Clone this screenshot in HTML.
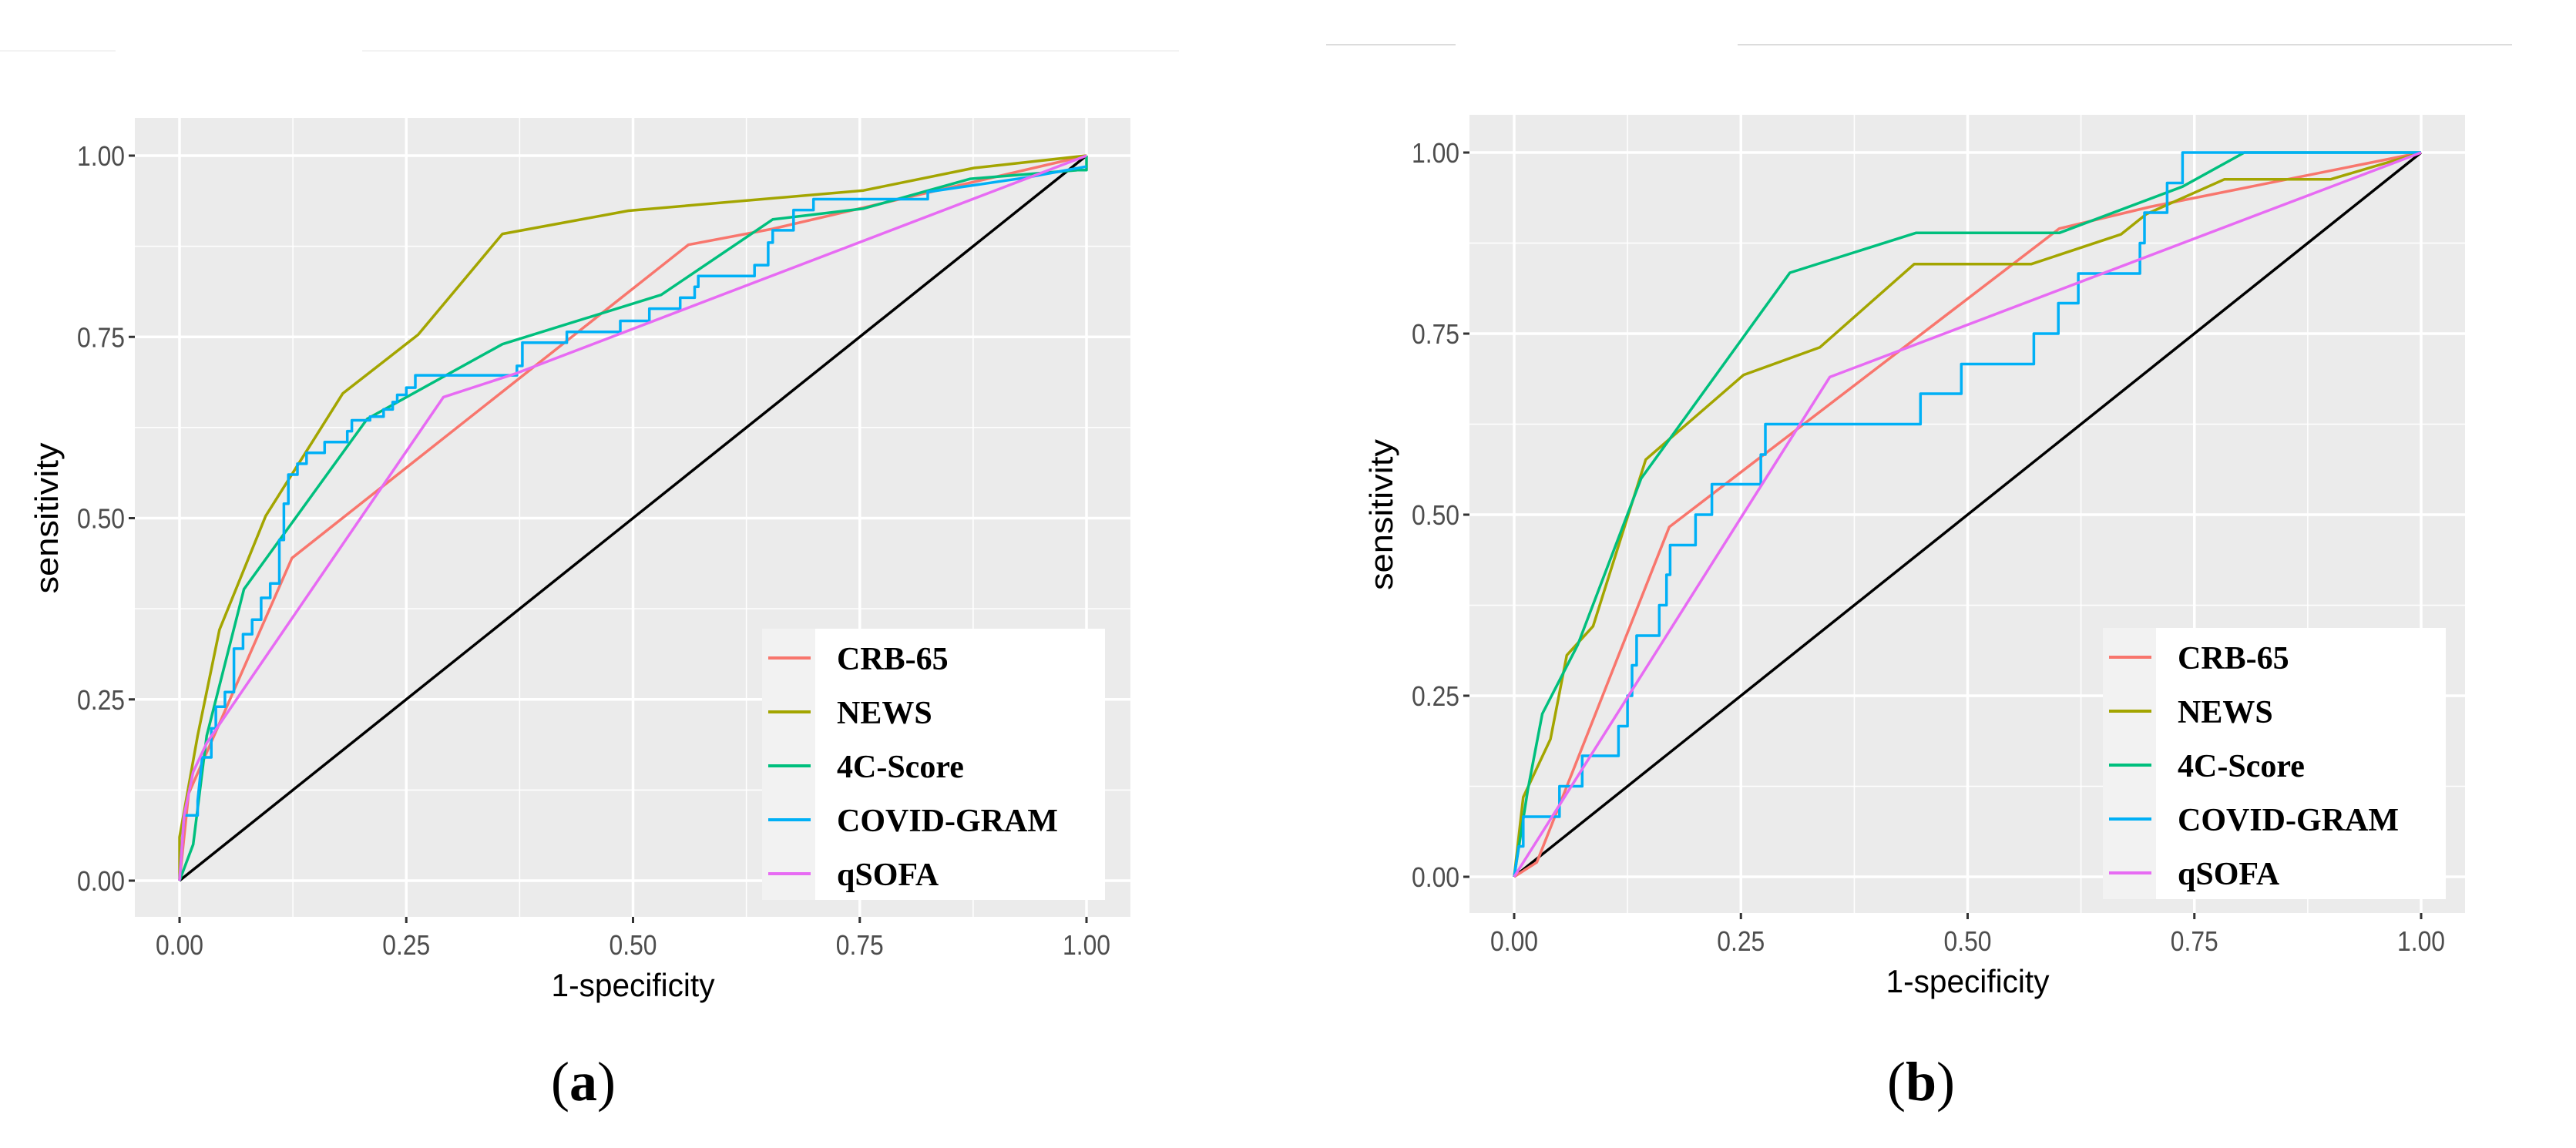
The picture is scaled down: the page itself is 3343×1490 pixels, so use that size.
<!DOCTYPE html>
<html><head><meta charset="utf-8">
<style>
html,body{margin:0;padding:0;background:#fff;}
svg{display:block;}
</style></head>
<body>
<svg id="fig" width="3343" height="1490" viewBox="0 0 3343 1490" xmlns="http://www.w3.org/2000/svg">
<rect x="0" y="0" width="3343" height="1490" fill="#ffffff"/>
<line x1="0" y1="66" x2="150" y2="66" stroke="#f3f3f3" stroke-width="2"/>
<line x1="470" y1="66" x2="1530" y2="66" stroke="#f3f3f3" stroke-width="2"/>
<line x1="1721" y1="58" x2="1889" y2="58" stroke="#dcdcdc" stroke-width="2"/>
<line x1="2255" y1="58" x2="3260" y2="58" stroke="#dcdcdc" stroke-width="2"/>
</svg>
<script>
// ---- data ----
const tickValues = [0, 0.25, 0.5, 0.75, 1];
const tickLabels = ["0.00", "0.25", "0.50", "0.75", "1.00"];
const seriesNames = ["CRB-65", "NEWS", "4C-Score", "COVID-GRAM", "qSOFA"];
const seriesColors = ["#F8766D", "#A3A500", "#00BF7D", "#00B0F6", "#E76BF3"];

// Panel (a)
const a_crb_x = [0, 0.01, 0.124, 0.561, 0.654, 1];
const a_crb_y = [0, 0.12, 0.445, 0.877, 0.899, 1];
const a_news_x = [0, 0, 0.02, 0.044, 0.095, 0.18, 0.263, 0.356, 0.495, 0.754, 0.876, 1];
const a_news_y = [0, 0.06, 0.2, 0.346, 0.503, 0.672, 0.753, 0.892, 0.924, 0.952, 0.983, 1];
const a_4c_x = [0, 0.015, 0.03, 0.071, 0.207, 0.356, 0.531, 0.654, 0.754, 0.872, 0.99, 1, 1];
const a_4c_y = [0, 0.05, 0.2, 0.402, 0.637, 0.74, 0.808, 0.912, 0.927, 0.968, 0.98, 0.98, 1];
const a_cg_x = [0,0.005,0.02,0.02,0.025,0.035,0.035,0.04,0.04,0.05,0.05,0.06,0.06,0.07,0.07,0.08,0.08,0.09,0.09,0.1,0.1,0.11,0.11,0.115,0.115,0.12,0.12,0.13,0.13,0.14,0.14,0.16,0.16,0.185,0.185,0.19,0.19,0.21,0.21,0.225,0.225,0.235,0.235,0.24,0.24,0.25,0.25,0.26,0.26,0.372,0.372,0.378,0.378,0.427,0.427,0.486,0.486,0.518,0.518,0.552,0.552,0.568,0.568,0.572,0.572,0.634,0.634,0.649,0.649,0.654,0.654,0.677,0.677,0.699,0.699,0.825,0.825,0.935,0.935,1];
const a_cg_y = [0,0.09,0.09,0.11,0.17,0.17,0.21,0.21,0.24,0.24,0.26,0.26,0.32,0.32,0.34,0.34,0.36,0.36,0.39,0.39,0.41,0.41,0.47,0.47,0.52,0.52,0.56,0.56,0.575,0.575,0.59,0.59,0.605,0.605,0.62,0.62,0.635,0.635,0.64,0.64,0.65,0.65,0.66,0.66,0.67,0.67,0.68,0.68,0.697,0.697,0.71,0.71,0.742,0.742,0.757,0.757,0.772,0.772,0.789,0.789,0.804,0.804,0.819,0.819,0.834,0.834,0.849,0.849,0.88,0.88,0.897,0.897,0.925,0.925,0.94,0.94,0.95,0.97,0.97,0.985,1];
const a_qs_x = [0, 0.005, 0.015, 0.03, 0.291, 0.372, 1];
const a_qs_y = [0, 0.09, 0.15, 0.19, 0.667, 0.70, 1];

// Panel (b)
const b_crb_x = [0, 0.025, 0.171, 0.601, 0.701, 1];
const b_crb_y = [0, 0.02, 0.483, 0.895, 0.925, 1];
const b_news_x = [0, 0.01, 0.04, 0.058, 0.087, 0.145, 0.253, 0.337, 0.441, 0.57, 0.669, 0.697, 0.783, 0.9, 1];
const b_news_y = [0, 0.11, 0.19, 0.306, 0.346, 0.576, 0.693, 0.731, 0.846, 0.846, 0.887, 0.915, 0.963, 0.963, 1];
const b_4c_x = [0, 0.015, 0.031, 0.07, 0.14, 0.304, 0.443, 0.601, 0.737, 0.805, 1];
const b_4c_y = [0, 0.12, 0.225, 0.32, 0.55, 0.834, 0.889, 0.889, 0.953, 1, 1];
const b_cg_x = [0,0.005,0.01,0.01,0.05,0.05,0.075,0.075,0.115,0.115,0.125,0.125,0.13,0.13,0.135,0.135,0.16,0.16,0.168,0.168,0.172,0.172,0.2,0.2,0.218,0.218,0.272,0.272,0.277,0.277,0.448,0.448,0.493,0.493,0.573,0.573,0.6,0.6,0.622,0.622,0.69,0.69,0.695,0.695,0.72,0.72,0.737,0.737,1];
const b_cg_y = [0,0.042,0.042,0.083,0.083,0.125,0.125,0.167,0.167,0.208,0.208,0.25,0.25,0.292,0.292,0.333,0.333,0.375,0.375,0.417,0.417,0.458,0.458,0.5,0.5,0.542,0.542,0.583,0.583,0.625,0.625,0.667,0.667,0.708,0.708,0.75,0.75,0.792,0.792,0.833,0.833,0.875,0.875,0.917,0.917,0.958,0.958,1,1];
const b_qs_x = [0, 0.348, 1];
const b_qs_y = [0, 0.69, 1];

const NS = "http://www.w3.org/2000/svg";
const svg = document.getElementById("fig");
function mk(tag, attrs, parent) {
  const e = document.createElementNS(NS, tag);
  for (const k in attrs) e.setAttribute(k, attrs[k]);
  (parent || svg).appendChild(e);
  return e;
}

function drawPanel(p) {
  const g = mk("g", {});
  
  
  const sx = v => p.x0 + v * (p.x1 - p.x0);
  const sy = v => p.y0 - v * (p.y0 - p.y1);
  // background
  const bg = mk("rect", {x: p.x0 - 58, y: p.y1 - 49, width: (p.x1 - p.x0) + 115, height: (p.y0 - p.y1) + 96, fill: "#ebebeb"}, g);
  
  
  const L = p.x0 - 58, R = p.x1 + 57, T = p.y1 - 49, B = p.y0 + 47;
  // minor grid
  [0.125, 0.375, 0.625, 0.875].forEach(v => {
    mk("line", {x1: sx(v), y1: T, x2: sx(v), y2: B, stroke: "#ffffff", "stroke-width": 1.5}, g);
    mk("line", {x1: L, y1: sy(v), x2: R, y2: sy(v), stroke: "#ffffff", "stroke-width": 1.5}, g);
  });
  // major grid, ticks, labels
  tickValues.forEach((v, i) => {
    mk("line", {x1: sx(v), y1: T, x2: sx(v), y2: B, stroke: "#ffffff", "stroke-width": 3.5}, g);
    mk("line", {x1: L, y1: sy(v), x2: R, y2: sy(v), stroke: "#ffffff", "stroke-width": 3.5}, g);
    mk("line", {x1: sx(v), y1: B, x2: sx(v), y2: B + 8, stroke: "#333", "stroke-width": 3}, g);
    mk("line", {x1: L - 8, y1: sy(v), x2: L, y2: sy(v), stroke: "#333", "stroke-width": 3}, g);
    const tx = mk("text", {x: sx(v), y: B + 49, "text-anchor": "middle", "font-family": "Liberation Sans, sans-serif", "font-size": 36, fill: "#4d4d4d", textLength: 62, lengthAdjust: "spacingAndGlyphs"}, g);
    tx.textContent = tickLabels[i];
    
    
    const ty = mk("text", {x: L - 13, y: sy(v) + 13, "text-anchor": "end", "font-family": "Liberation Sans, sans-serif", "font-size": 36, fill: "#4d4d4d", textLength: 62, lengthAdjust: "spacingAndGlyphs"}, g);
    ty.textContent = tickLabels[i];
    
    
  });
  // diagonal
  const diag = mk("line", {x1: sx(0), y1: sy(0), x2: sx(1), y2: sy(1), stroke: "#000", "stroke-width": 3.5}, g);
  
  
  // series
  p.series.forEach((s, i) => {
    const pts = s[0].map((xv, j) => sx(xv).toFixed(1) + "," + sy(s[1][j]).toFixed(1)).join(" ");
    const pl = mk("polyline", {points: pts, fill: "none", stroke: seriesColors[i], "stroke-width": 3.5, "stroke-linejoin": "round"}, g);
    
    
  });
  // axis titles
  const xt = mk("text", {x: (p.x0 + p.x1) / 2, y: B + 103, "text-anchor": "middle", "font-family": "Liberation Sans, sans-serif", "font-size": 42, fill: "#000", textLength: 212, lengthAdjust: "spacingAndGlyphs"}, g);
  xt.textContent = "1-specificity";
  
  
  const ytx = p.x0 - 158, yty = (p.y0 + p.y1) / 2;
  const yt = mk("text", {x: ytx, y: yty, "text-anchor": "middle", "font-family": "Liberation Sans, sans-serif", "font-size": 42, fill: "#000", textLength: 196, lengthAdjust: "spacingAndGlyphs", transform: "rotate(-90 " + ytx + " " + yty + ")"}, g);
  yt.textContent = "sensitivity";
  
  
  // legend
  const lg = mk("g", {}, g);
  
  
  mk("rect", {x: p.lx, y: p.ly, width: 445, height: 352, fill: "#ffffff"}, lg);
  mk("rect", {x: p.lx, y: p.ly, width: 69, height: 352, fill: "#f2f2f2"}, lg);
  seriesNames.forEach((n, i) => {
    const yy = p.ly + 38 + i * 70;
    const ln = mk("line", {x1: p.lx + 8, y1: yy, x2: p.lx + 63, y2: yy, stroke: seriesColors[i], "stroke-width": 4}, lg);
    
    
    const t = mk("text", {x: p.lx + 97, y: yy + 15, "font-family": "Liberation Serif, serif", "font-weight": "bold", "font-size": 42, fill: "#000"}, lg);
    t.textContent = n;
    
    
  });
  // panel label
  const pl = mk("text", {x: p.labelX, y: p.labelY, "text-anchor": "middle", "font-family": "Liberation Serif, serif", "font-size": 72, fill: "#000"}, g);
  pl.innerHTML = "(<tspan font-weight='bold'>" + p.letter + "</tspan>)";
  
  
}

drawPanel({name: "panel-a", x0: 233, x1: 1410, y0: 1143, y1: 202, lx: 989, ly: 816, labelX: 757, labelY: 1428, letter: "a",
  series: [[a_crb_x, a_crb_y], [a_news_x, a_news_y], [a_4c_x, a_4c_y], [a_cg_x, a_cg_y], [a_qs_x, a_qs_y]]});
drawPanel({name: "panel-b", x0: 1965, x1: 3142, y0: 1138, y1: 198, lx: 2729, ly: 815, labelX: 2493, labelY: 1428, letter: "b",
  series: [[b_crb_x, b_crb_y], [b_news_x, b_news_y], [b_4c_x, b_4c_y], [b_cg_x, b_cg_y], [b_qs_x, b_qs_y]]});
</script>
</body></html>
